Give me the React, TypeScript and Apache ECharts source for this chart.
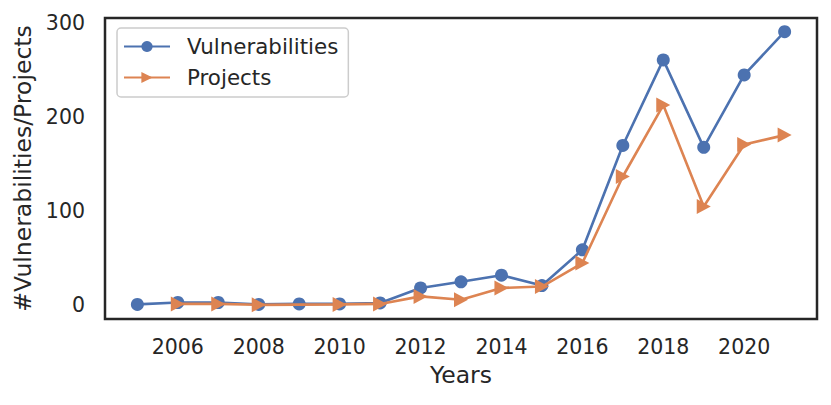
import React, { useEffect, useRef } from "react";
import * as echarts from "echarts";

const vulnYears = [2005, 2006, 2007, 2008, 2009, 2010, 2011, 2012, 2013, 2014, 2015, 2016, 2017, 2018, 2019, 2020, 2021];
const vulnValues = [1, 3, 3, 1, 1.5, 1.5, 2.5, 18.5, 25, 32, 21, 59, 170, 261, 168, 245, 291];
const projYears = [2006, 2007, 2008, 2010, 2011, 2012, 2013, 2014, 2015, 2016, 2017, 2018, 2019, 2020, 2021];
const projValues = [1.5, 1.5, 0.5, 1, 1.5, 9.5, 6, 18.5, 20, 45, 137, 213, 105, 171, 181];
const xTicks = [2006, 2008, 2010, 2012, 2014, 2016, 2018, 2020];
const yTicks = [0, 100, 200, 300];

const FONT = "DejaVu Sans";
const TEXT = "#262626";

export default function App() {
  const ref = useRef<HTMLDivElement>(null);
  useEffect(() => {
    const chart = echarts.init(ref.current!, null, { renderer: "svg" });
    chart.setOption({
      animation: false,
      backgroundColor: "#ffffff",
      grid: {
        left: 105,
        right: 14,
        top: 18,
        bottom: 86,
        show: true,
        borderColor: "#262626",
        borderWidth: 2.5,
        backgroundColor: "#ffffff",
      },
      legend: {
        orient: "vertical",
        left: 117,
        top: 28,
        padding: [8, 10, 9, 6],
        borderColor: "#cccccc",
        borderWidth: 1.5,
        borderRadius: 4,
        itemWidth: 46,
        itemHeight: 14,
        itemGap: 10,
        textStyle: { fontFamily: FONT, fontSize: 21.4, color: TEXT, padding: [0, 0, 0, 12] },
        data: ["Vulnerabilities", "Projects"],
      },
      xAxis: {
        type: "value",
        min: 2004.2,
        max: 2021.8,
        name: "Years",
        nameLocation: "middle",
        nameGap: 44,
        nameTextStyle: { fontFamily: FONT, fontSize: 23.5, color: TEXT },
        axisLine: { show: false },
        axisTick: { show: false },
        splitLine: { show: false },
        axisLabel: {
          customValues: xTicks,
          fontFamily: FONT,
          fontSize: 20.5,
          color: TEXT,
          margin: 17,
          formatter: (v: number) => String(v),
        },
      },
      yAxis: {
        type: "value",
        min: -14.55,
        max: 305.55,
        name: "#Vulnerabilities/Projects",
        nameLocation: "middle",
        nameGap: 60,
        nameTextStyle: { fontFamily: FONT, fontSize: 23.5, color: TEXT },
        axisLine: { show: false },
        axisTick: { show: false },
        splitLine: { show: false },
        axisLabel: {
          customValues: yTicks,
          fontFamily: FONT,
          fontSize: 20.5,
          color: TEXT,
          margin: 20,
        },
      },
      series: [
        {
          name: "Vulnerabilities",
          type: "line",
          data: vulnYears.map((y, i) => [y, vulnValues[i]]),
          symbol: "circle",
          symbolSize: 13,
          showAllSymbol: true,
          lineStyle: { color: "#4c72b0", width: 2.6 },
          itemStyle: { color: "#4c72b0" },
          z: 2,
        },
        {
          name: "Projects",
          type: "line",
          data: projYears.map((y, i) => [y, projValues[i]]),
          symbol: "triangle",
          symbolRotate: -90,
          symbolSize: [15, 14],
          showAllSymbol: true,
          lineStyle: { color: "#dd8452", width: 2.6 },
          itemStyle: { color: "#dd8452" },
          z: 3,
        },
      ],
    });
    return () => chart.dispose();
  }, []);
  return (
    <div
      ref={ref}
      style={{ position: "fixed", left: 0, top: 0, width: 831, height: 405, background: "#fff" }}
    />
  );
}
